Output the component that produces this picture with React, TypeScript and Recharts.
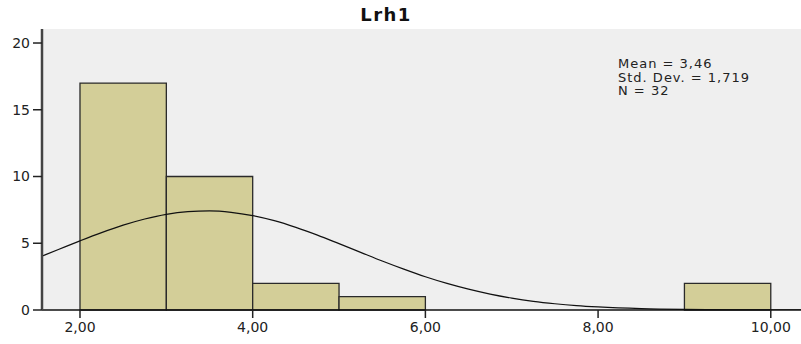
import React from 'react';
import { ComposedChart, Line, XAxis, YAxis, CartesianGrid, ReferenceArea } from 'recharts';

const chartTitle = 'Lrh1';
const statLines = ['Mean = 3,46', 'Std. Dev. = 1,719', 'N = 32'];

const binStarts = [2, 3, 4, 5, 9];
const binEnds = [3, 4, 5, 6, 10];
const binCounts = [17, 10, 2, 1, 2];

const curveX = [1.5, 1.75, 2, 2.25, 2.5, 2.75, 3, 3.25, 3.5, 3.75, 4, 4.25, 4.5, 4.75, 5, 5.25, 5.5, 5.75, 6, 6.25, 6.5, 6.75, 7, 7.25, 7.5, 7.75, 8, 8.5, 9, 9.5, 10, 10.5];
const curveY = [3.88, 4.53, 5.18, 5.8, 6.36, 6.82, 7.17, 7.37, 7.43, 7.32, 7.07, 6.69, 6.19, 5.61, 4.97, 4.32, 3.67, 3.06, 2.49, 1.99, 1.56, 1.19, 0.89, 0.65, 0.47, 0.33, 0.23, 0.1, 0.04, 0.015, 0.005, 0.002];

const xTicks = [2, 4, 6, 8, 10];
const yTicks = [0, 5, 10, 15, 20];
const xDomain = [1.56, 10.35];
const yDomain = [0, 21.05];

const curveData = curveX.map((x, i) => ({ x, y: curveY[i] }));

const fmt = (v: number) => v.toFixed(2).replace('.', ',');
const FONT = '"DejaVu Sans", sans-serif';

export default function App() {
  return (
    <div style={{ position: 'absolute', left: 0, top: 0, width: 801, height: 344, background: '#fff' }}>
      <ComposedChart
        width={801}
        height={344}
        data={curveData}
        margin={{ top: 29, right: 0, bottom: 0, left: 0 }}
      >
        <CartesianGrid horizontal={false} vertical={false} fill="#efefef" />
        <XAxis
          xAxisId="top"
          orientation="top"
          type="number"
          dataKey="x"
          domain={xDomain}
          allowDataOverflow
          height={0}
          tick={false}
          tickLine={false}
          axisLine={{ stroke: '#8a8a8a', strokeWidth: 2 }}
        />
        <XAxis
          type="number"
          dataKey="x"
          domain={xDomain}
          allowDataOverflow
          ticks={xTicks}
          tickFormatter={fmt}
          height={34}
          tickSize={8}
          tickMargin={4}
          axisLine={{ stroke: '#111', strokeWidth: 1.5 }}
          tickLine={{ stroke: '#222', strokeWidth: 1.5 }}
          tick={{ fill: '#222', fontSize: 14, fontFamily: FONT }}
        />
        <YAxis
          type="number"
          domain={yDomain}
          allowDataOverflow
          ticks={yTicks}
          width={42}
          tickSize={9}
          tickMargin={3}
          axisLine={{ stroke: '#444', strokeWidth: 2.5 }}
          tickLine={{ stroke: '#222', strokeWidth: 1.5 }}
          tick={{ fill: '#222', fontSize: 14, fontFamily: FONT }}
        />
        {binCounts.map((c, i) => (
          <ReferenceArea
            key={i}
            x1={binStarts[i]}
            x2={binEnds[i]}
            y1={0}
            y2={c}
            fill="#d3ce98"
            fillOpacity={1}
            stroke="#2a2a2a"
            strokeWidth={1.3}
            strokeOpacity={1}
          />
        ))}
        <Line
          dataKey="y"
          type="monotone"
          stroke="#111"
          strokeWidth={1.2}
          dot={false}
          activeDot={false}
          isAnimationActive={false}
        />
      </ComposedChart>
      <svg width={801} height={344} style={{ position: 'absolute', left: 0, top: 0, pointerEvents: 'none' }}>
        <text x={386} y={20.5} textAnchor="middle" fontFamily={FONT} fontWeight="bold" fontSize={18} letterSpacing={1.5} fill="#111">
          {chartTitle}
        </text>
        {statLines.map((s, i) => (
          <text key={i} x={618} y={68 + i * 13.5} fontFamily={FONT} fontSize={13} letterSpacing={1} fill="#222">
            {s}
          </text>
        ))}
      </svg>
    </div>
  );
}
